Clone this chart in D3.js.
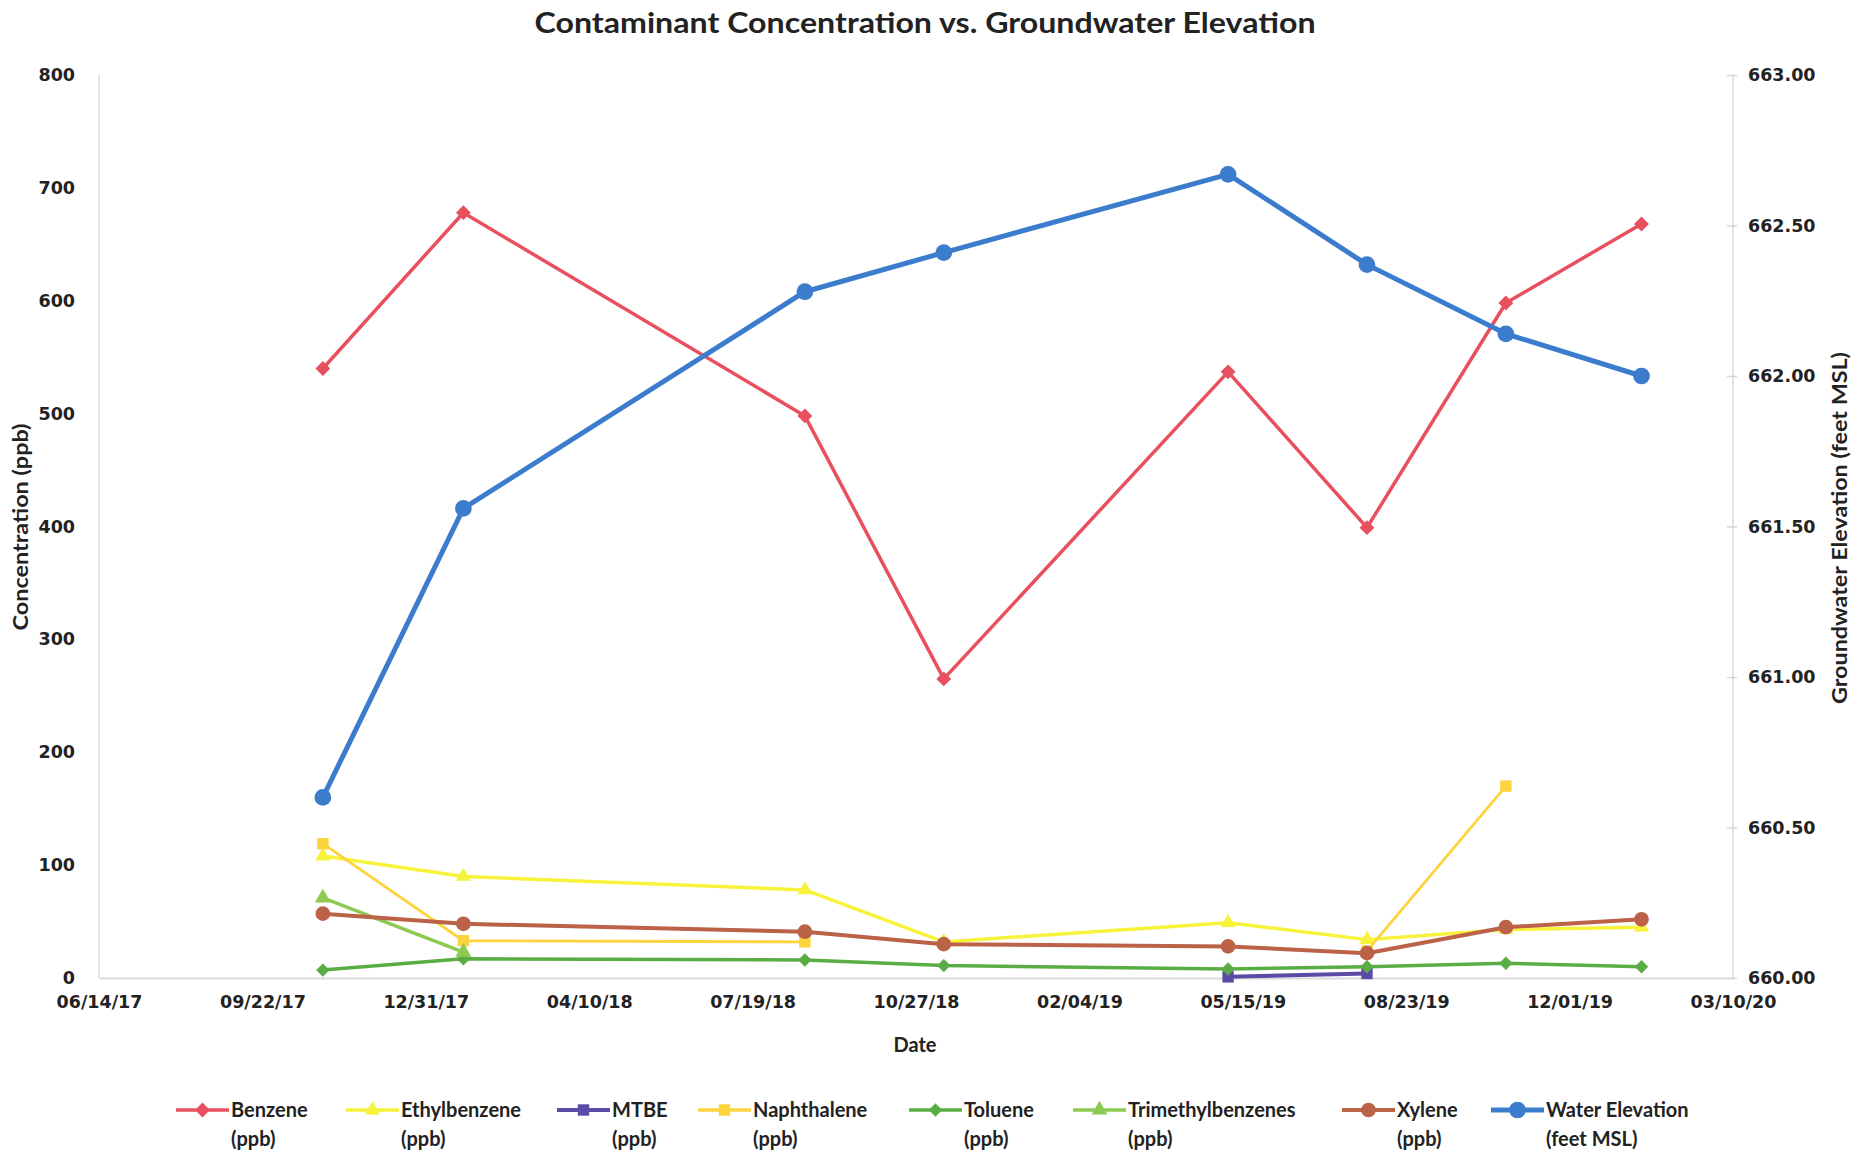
<!DOCTYPE html>
<html><head><meta charset="utf-8">
<script src="https://cdn.jsdelivr.net/npm/d3@7"></script>
<style>body{margin:0;background:#fff}</style>
</head><body>
<svg id="c" width="1870" height="1152"></svg>
<script>
const dates = ["10/29/17","01/23/18","08/20/18","11/13/18","05/06/19","07/30/19","10/23/19","01/14/20"];
const benzene = [540, 678, 498, 265, 537, 399, 598, 668];
const ethylbenzene = [108, 90, 78, 32, 49, 34, 43, 45];
const mtbe = [null, null, null, null, 1, 4, null, null];
const naphthalene = [119, 33, 32, null, null, 24, 170, null];
const toluene = [7, 17, 16, 11, 8, 10, 13, 10];
const trimethylbenzenes = [71, 23, null, null, null, null, null, null];
const xylene = [57, 48, 41, 30, 28, 22, 45, 52];
const waterElevation = [660.60, 661.56, 662.28, 662.41, 662.67, 662.37, 662.14, 662.00];
const xTickLabels = ["06/14/17","09/22/17","12/31/17","04/10/18","07/19/18","10/27/18","02/04/19","05/15/19","08/23/19","12/01/19","03/10/20"];
const leftTicks = [0,100,200,300,400,500,600,700,800];
const rightTicks = [660,660.5,661,661.5,662,662.5,663];

const parse = d3.timeParse("%m/%d/%y");
const svg = d3.select("#c");
const L = 99, R = 1733, T = 75, B = 978;
const x = d3.scaleTime().domain([parse("06/14/17"), parse("03/10/20")]).range([L, R]);
const y = d3.scaleLinear().domain([0, 800]).range([B, T]);
const y2 = d3.scaleLinear().domain([660, 663]).range([B, T]);

const diamond = {draw(ctx, size){const r=Math.sqrt(size/2); ctx.moveTo(0,-r); ctx.lineTo(r,0); ctx.lineTo(0,r); ctx.lineTo(-r,0); ctx.closePath();}};

const series = [
  {name:"Benzene", sub:"(ppb)", vals:benzene, color:"#e9505f", w:3.5, sym:diamond, size:110, ax:y},
  {name:"Ethylbenzene", sub:"(ppb)", vals:ethylbenzene, color:"#f7f23a", w:3.5, sym:d3.symbolTriangle, size:100, ax:y},
  {name:"MTBE", sub:"(ppb)", vals:mtbe, color:"#5b4aa6", w:4, sym:d3.symbolSquare, size:130, ax:y},
  {name:"Naphthalene", sub:"(ppb)", vals:naphthalene, color:"#fdd33e", w:3.5, sym:d3.symbolSquare, size:130, ax:y},
  {name:"Toluene", sub:"(ppb)", vals:toluene, color:"#5aad45", w:3.5, sym:diamond, size:90, ax:y},
  {name:"Trimethylbenzenes", sub:"(ppb)", vals:trimethylbenzenes, color:"#8dca52", w:3.5, sym:d3.symbolTriangle, size:110, ax:y},
  {name:"Xylene", sub:"(ppb)", vals:xylene, color:"#bb6249", w:4, sym:d3.symbolCircle, size:170, ax:y},
  {name:"Water Elevation", sub:"(feet MSL)", vals:waterElevation, color:"#3b7dcc", w:5, sym:d3.symbolCircle, size:220, ax:y2}
];

// axes lines
const g = svg.append("g");
g.append("line").attr("x1",L).attr("x2",L).attr("y1",T).attr("y2",B).attr("stroke","#e3e3e3").attr("stroke-width",2);
g.append("line").attr("x1",R).attr("x2",R).attr("y1",T).attr("y2",B).attr("stroke","#e3e3e3").attr("stroke-width",2);

const fontNum = "DejaVu Sans";
const la = svg.append("g").attr("transform",`translate(${L},0)`)
  .call(d3.axisLeft(y).tickValues(leftTicks).tickSize(0).tickPadding(24).tickFormat(d3.format("d")));
la.select(".domain").remove();
la.selectAll("text").attr("font-family",fontNum).attr("font-weight","bold").attr("font-size",17.5).attr("fill","#222");
const ra = svg.append("g").attr("transform",`translate(${R},0)`)
  .call(d3.axisRight(y2).tickValues(rightTicks).tickSize(0).tickPadding(15).tickFormat(d3.format(".2f")));
ra.select(".domain").remove();
ra.selectAll("text").attr("font-family",fontNum).attr("font-weight","bold").attr("font-size",17.5).attr("fill","#222");
ra.selectAll(".tick").append("line").attr("x1",-6).attr("x2",4).attr("stroke","#d6d6d6").attr("stroke-width",1.5);
const xa = svg.append("g").attr("transform",`translate(0,${B})`)
  .call(d3.axisBottom(x).tickValues(xTickLabels.map(parse)).tickSize(0).tickPadding(18).tickFormat(d3.timeFormat("%m/%d/%y")));
xa.select(".domain").attr("stroke","#d9d9d9").attr("stroke-width",2);
xa.selectAll("text").attr("font-family",fontNum).attr("font-weight","bold").attr("font-size",17.5).attr("fill","#222");

series.forEach(s => {
  const pts = dates.map((d,i)=>({d:parse(d), v:s.vals[i]}));
  const line = d3.line().defined(p=>p.v!==null).x(p=>x(p.d)).y(p=>s.ax(p.v));
  svg.append("path").datum(pts).attr("d",line).attr("fill","none").attr("stroke",s.color)
    .attr("stroke-width", s.name==="Naphthalene"?2.8:s.w).attr("stroke-linejoin","round");
  svg.append("g").selectAll("path").data(pts.filter(p=>p.v!==null)).join("path")
    .attr("transform",p=>`translate(${x(p.d)},${s.ax(p.v)})`)
    .attr("d", d3.symbol().type(s.sym).size(s.size)).attr("fill",s.color);
});

const tf = "Lato";
svg.append("text").attr("x",925).attr("y",33).attr("text-anchor","middle").attr("font-family",tf)
  .attr("font-weight","bold").attr("font-size",28).attr("fill","#222")
  .attr("textLength",781).attr("lengthAdjust","spacingAndGlyphs")
  .text("Contaminant Concentration vs. Groundwater Elevation");
svg.append("text").attr("x",915).attr("y",1052).attr("text-anchor","middle").attr("font-family",tf)
  .attr("font-weight","bold").attr("font-size",20).attr("fill","#222").text("Date");
svg.append("text").attr("transform","translate(28,527) rotate(-90)").attr("text-anchor","middle").attr("font-family",tf)
  .attr("font-weight","bold").attr("font-size",20).attr("fill","#222")
  .attr("textLength",207).attr("lengthAdjust","spacingAndGlyphs").text("Concentration (ppb)");
svg.append("text").attr("transform","translate(1847,528) rotate(-90)").attr("text-anchor","middle").attr("font-family",tf)
  .attr("font-weight","bold").attr("font-size",20).attr("fill","#222")
  .attr("textLength",352).attr("lengthAdjust","spacingAndGlyphs").text("Groundwater Elevation (feet MSL)");

const legX = [176, 346, 557, 698, 909, 1073, 1342, 1491];
const lg = svg.append("g");
series.forEach((s,i) => {
  const x0 = legX[i];
  lg.append("line").attr("x1",x0).attr("x2",x0+53).attr("y1",1110).attr("y2",1110).attr("stroke",s.color).attr("stroke-width",s.w);
  lg.append("path").attr("transform",`translate(${x0+26.5},1110)`).attr("d",d3.symbol().type(s.sym).size(s.size)).attr("fill",s.color);
  const t = lg.append("text").attr("font-family",tf).attr("font-weight","bold").attr("font-size",20).attr("fill","#222");
  t.append("tspan").attr("x",x0+55).attr("y",1117).text(s.name);
  t.append("tspan").attr("x",x0+55).attr("y",1146).text(s.sub);
});
</script>
</body></html>
